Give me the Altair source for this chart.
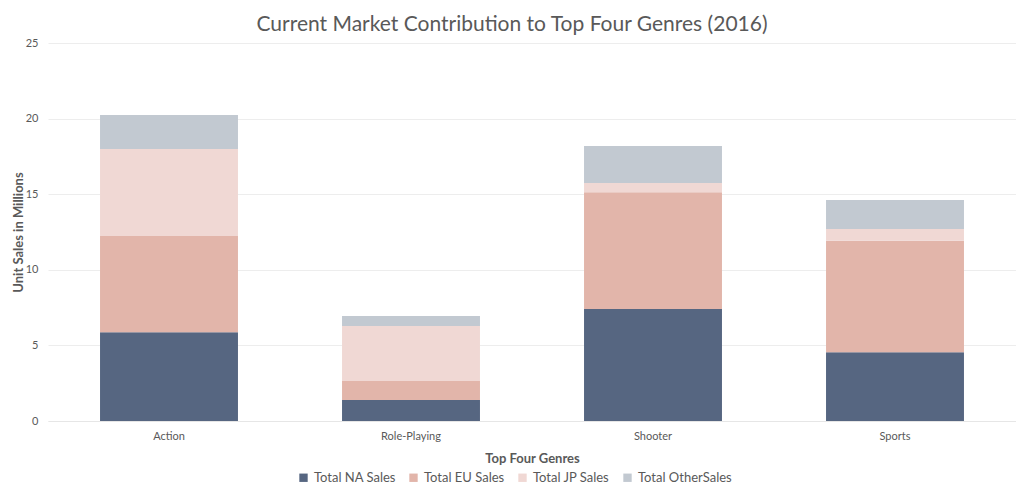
import altair as alt
import pandas as pd

genres = ["Action", "Role-Playing", "Shooter", "Sports"]
series = ["Total NA Sales", "Total EU Sales", "Total JP Sales", "Total OtherSales"]
na_sales = [5.87, 1.39, 7.41, 4.54]
eu_sales = [6.36, 1.26, 7.72, 7.38]
jp_sales = [5.76, 3.63, 0.61, 0.78]
other_sales = [2.25, 0.66, 2.45, 1.92]
colors = ["#566681", "#e2b5aa", "#f0d8d4", "#c2c9d1"]

rows = []
for i, s in enumerate(series):
    vals = [na_sales, eu_sales, jp_sales, other_sales][i]
    for g, v in zip(genres, vals):
        rows.append({"Genre": g, "Series": s, "Value": v, "idx": i})
df = pd.DataFrame(rows)

FONT = "Lato"
GRAY = "#595959"

chart = alt.Chart(df).mark_bar(opacity=1).encode(
    x=alt.X("Genre:N", sort=genres, title="Top Four Genres",
            scale=alt.Scale(paddingInner=0.43, paddingOuter=0.215),
            axis=alt.Axis(labelAngle=0, ticks=False, domainColor="#e6e6e6",
                          labelFontSize=11, labelColor=GRAY, labelPadding=9,
                          titleFontSize=13, titleColor=GRAY, titleFontWeight="bold",
                          titlePadding=11, labelFont=FONT, titleFont=FONT)),
    y=alt.Y("Value:Q", stack="zero", title="Unit Sales in Millions",
            scale=alt.Scale(domain=[0, 25]),
            axis=alt.Axis(values=[0, 5, 10, 15, 20, 25], ticks=False, domain=False,
                          gridColor="#ededed", labelFontSize=11, labelColor=GRAY,
                          labelPadding=10, titleFontSize=13, titleColor=GRAY,
                          titleFontWeight="bold", titlePadding=0,
                          labelFont=FONT, titleFont=FONT)),
    color=alt.Color("Series:N", sort=series,
                    scale=alt.Scale(domain=series, range=colors),
                    legend=alt.Legend(title=None, orient="none", direction="horizontal",
                                      legendX=249, legendY=428, symbolType="square",
                                      symbolSize=70, symbolStrokeWidth=0,
                                      labelFontSize=13, labelColor=GRAY, labelFont=FONT,
                                      columnPadding=11, labelOffset=4)),
    order=alt.Order("idx:Q", sort="ascending"),
).properties(
    width=968, height=378,
    title=alt.TitleParams("Current Market Contribution to Top Four Genres (2016)",
                          fontSize=21, font=FONT, color=GRAY, fontWeight="normal",
                          anchor="middle", dx=-20, offset=2),
    autosize=alt.AutoSizeParams(type="none"),
    padding={"left": 40, "top": 35, "right": 0, "bottom": 64},
).configure_view(stroke=None)

chart.save("out.html", embed_options={"renderer": "svg", "actions": False})
